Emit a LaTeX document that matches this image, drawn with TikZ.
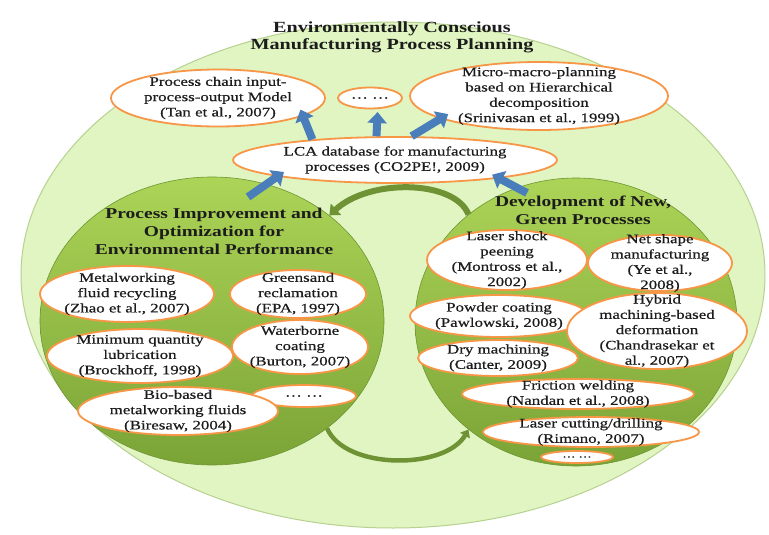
\documentclass[tikz,border=0pt]{standalone}
\usepackage{fontspec}
\setmainfont{Liberation Serif}[FakeStretch=1.3]
\newfontfamily\ovalfont{Liberation Serif}[FakeStretch=1.3, FakeBold=0.6]
\usetikzlibrary{shapes.geometric,arrows.meta}

\definecolor{paleg}{HTML}{E0F5C2}
\definecolor{paleedge}{HTML}{B7D190}
\definecolor{limetop}{HTML}{ACD457}
\definecolor{limemid}{HTML}{86AF3E}
\definecolor{limebot}{HTML}{7BA437}
\definecolor{limeedge}{HTML}{6E9430}
\definecolor{ovalorange}{HTML}{F79646}
\definecolor{arrowblue}{HTML}{4A7EBB}
\definecolor{olivearrow}{HTML}{6F9234}
\definecolor{inktext}{HTML}{1C1C1C}

\tikzset{
  greenball/.style={ellipse, draw=limeedge, line width=.6pt,
    top color=limetop, middle color=limemid, bottom color=limebot},
  oval/.style={ellipse, draw=ovalorange, line width=1.8pt, fill=white, inner sep=0pt},
  ovaltext/.style={font=\ovalfont\fontsize{13}{15.3}\selectfont, align=center, text=inktext},
  balltitle/.style={font=\bfseries\fontsize{15}{18}\selectfont, align=center, text=inktext},
  bluearrow/.style={draw=arrowblue, line width=8pt, -{Triangle[length=11pt,width=19pt]}},
  greencurve/.style={draw=olivearrow, line width=6pt, -{Triangle[length=9pt,width=15pt]}}
}

\begin{document}
\begin{tikzpicture}[x=1pt, y=-1pt]
\useasboundingbox (0,0) rectangle (769,535);
\fill[white] (0,0) rectangle (769,535);

% outer frame
\node[ellipse, fill=paleg, draw=paleedge, line width=1pt, minimum width=744, minimum height=506] (ecm) at (393,275) {};
\node[font=\bfseries\fontsize{15.5}{17}\selectfont, align=center, text=inktext] (ttl) at (392,37)
  {Environmentally Conscious\\Manufacturing Process Planning};

% the two circles
\node[greenball, minimum width=344, minimum height=288] (pio) at (212,321) {};
\node[greenball, minimum width=322, minimum height=288] (dng) at (576,322) {};

\draw[greencurve] (dng.135) .. controls (455,180) and (370,178) .. (pio.42);
\draw[greencurve, line width=4.5pt, -{Triangle[length=7pt,width=11pt]}] (pio.-43) .. controls (345,470) and (445,470) .. (dng.-135);

\node[balltitle] (piot) at (214,231) {Process Improvement and\\Optimization for\\Environmental Performance};
\node[balltitle] (dngt) at (583,210) {Development of New,\\Green Processes};

% top level
\node[oval, minimum width=214, minimum height=57, label={[ovaltext]center:{Process chain input-\\process-output Model\\(Tan et  al., 2007)}}] (pc) at (218,98) {};
\node[oval, minimum width=64, minimum height=21, label={[ovaltext]center:{… …}}] (dots1) at (370,98) {};
\node[oval, minimum width=258, minimum height=68, label={[ovaltext]center:{Micro-macro-planning\\based on Hierarchical\\decomposition\\(Srinivasan et al., 1999)}}] (mm) at (539,96) {};
\node[oval, minimum width=324, minimum height=46, label={[ovaltext]center:{LCA database for manufacturing\\processes (CO2PE!, 2009)}}] (lca) at (395,160) {};

% left circle
\node[oval, minimum width=174, minimum height=56, label={[ovaltext]center:{Metalworking\\fluid recycling\\(Zhao et al., 2007)}}] (mwf) at (127,294) {};
\node[oval, minimum width=136, minimum height=48, label={[ovaltext]center:{Greensand\\reclamation\\(EPA, 1997)}}] (gsr) at (298,294) {};
\node[oval, minimum width=186, minimum height=54, label={[ovaltext]center:{Minimum quantity\\lubrication\\(Brockhoff, 1998)}}] (mql) at (140,356) {};
\node[oval, minimum width=136, minimum height=54, label={[ovaltext]center:{Waterborne\\coating\\(Burton, 2007)}}] (wbc) at (300,347) {};
\node[oval, minimum width=104, minimum height=22, label={[ovaltext]center:{… …}}] (dots2) at (304,396) {};
\node[oval, minimum width=200, minimum height=48, label={[ovaltext]center:{Bio-based\\metalworking fluids\\(Biresaw, 2004)}}] (bbf) at (178,411) {};

% right circle
\node[oval, minimum width=160, minimum height=60, label={[ovaltext]center:{Laser shock\\peening\\(Montross et al.,\\2002)}}] (lsp) at (507,260) {};
\node[oval, minimum width=144, minimum height=56, label={[ovaltext]center:{Net shape\\manufacturing\\(Ye et al.,\\2008)}}] (nsm) at (660,263) {};
\node[oval, minimum width=178, minimum height=42, label={[ovaltext]center:{Powder coating\\(Pawlowski, 2008)}}] (pwc) at (499,316) {};
\node[oval, minimum width=180, minimum height=76, label={[ovaltext]center:{Hybrid\\machining-based\\deformation\\(Chandrasekar et\\al., 2007)}}] (hmd) at (657,331) {};
\node[oval, minimum width=160, minimum height=36, label={[ovaltext]center:{Dry machining\\(Canter, 2009)}}] (dry) at (498,358) {};
\node[oval, minimum width=232, minimum height=30, label={[ovaltext]center:{Friction welding\\(Nandan et al., 2008)}}] (frw) at (578,394) {};
\node[oval, minimum width=216, minimum height=30, label={[ovaltext]center:{Laser cutting/drilling\\(Rimano, 2007)}}] (lcd) at (591,432) {};
\node[oval, minimum width=72, minimum height=12, label={[ovaltext, font=\ovalfont\fontsize{10}{12}\selectfont]center:{… …}}] (dots3) at (577,457) {};

% blue arrows
\coordinate (pio-out) at (248,197);
\coordinate (dng-out) at (527,193);
\draw[bluearrow, shorten >=-7pt] (lca.166) -- (pc.-12);
\draw[bluearrow, shorten >=3pt] (lca.128) -- (dots1.-55);
\draw[bluearrow, shorten >=-9pt] (lca.55) -- (mm.193);
\draw[bluearrow, shorten >=-8pt] (pio-out) -- (lca.188);
\draw[bluearrow, shorten >=-8pt] (dng-out) -- (lca.-10);

\end{tikzpicture}
\end{document}
